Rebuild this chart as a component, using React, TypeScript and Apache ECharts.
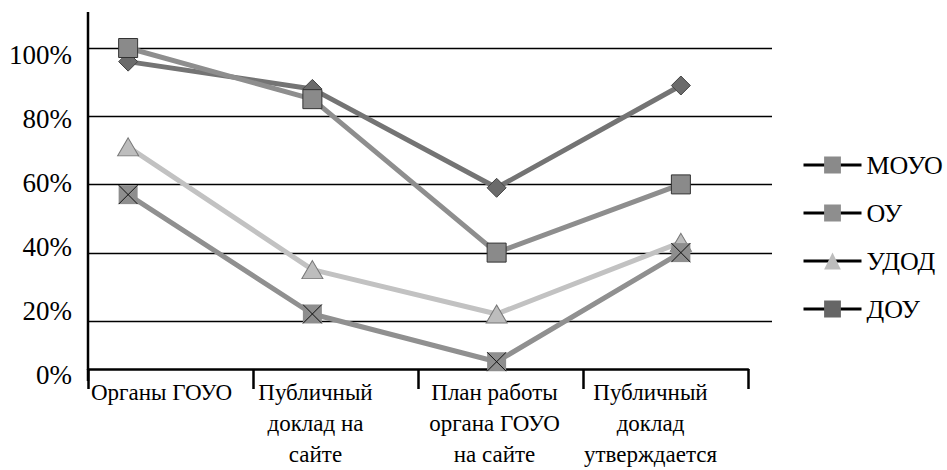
import React, { useEffect, useRef } from "react";
import * as echarts from "echarts";

const categories = [
  "Органы ГОУО",
  "Публичный\nдоклад на\nсайте",
  "План работы\nоргана ГОУО\nна сайте",
  "Публичный\nдоклад\nутверждается",
];
const seriesNames = ["МОУО", "ОУ", "УДОД", "ДОУ"];
const moyo = [100, 85, 40, 60];
const oy = [57, 22, 8, 40];
const udod = [71, 35, 22, 43];
const doy = [96, 88, 59, 89];
const yTicks = [0, 20, 40, 60, 80, 100];

const SERIF = "Liberation Serif";
// horizontal label shift to the left (px), as in the source layout
const labelShift = [9, 20, 6, 15];

export default function App() {
  const ref = useRef<HTMLDivElement>(null);
  useEffect(() => {
    if (!ref.current) return;
    const chart = echarts.init(ref.current, null, { renderer: "svg" });
    const plotTop = 48;
    const plotBottom = 389;
    const xLabelData = categories.map((c, i) => ({
      value: c,
      textStyle: { padding: [0, labelShift[i] * 2, 0, 0] },
    }));
    const option: any = {
      animation: false,
      backgroundColor: "#fff",
      textStyle: { fontFamily: SERIF },
      grid: [
        { left: 36, width: 737, top: plotTop, height: plotBottom - plotTop },
        { left: 88, width: 684, top: plotTop, height: 321 - plotTop },
        { left: 88, width: 684, top: 55, height: 320 },
        { left: 88, width: 660, top: 300, height: 79 },
      ],
      xAxis: [
        { gridIndex: 0, type: "category", data: categories, show: false },
        { gridIndex: 1, type: "value", show: false },
        { gridIndex: 2, type: "value", show: false },
        {
          gridIndex: 3,
          type: "category",
          data: xLabelData,
          boundaryGap: true,
          axisLine: { show: true, lineStyle: { color: "#000", width: 2.5 } },
          axisTick: { show: true, interval: 0, length: 20, lineStyle: { color: "#000", width: 2.5 } },
          axisLabel: {
            interval: 0,
            color: "#000",
            fontFamily: SERIF,
            fontSize: 23,
            lineHeight: 31,
            margin: 8,
          },
          splitLine: { show: false },
        },
      ],
      yAxis: [
        { gridIndex: 0, type: "value", min: 0, max: 100, show: false },
        {
          gridIndex: 1,
          type: "value",
          min: 20,
          max: 100,
          interval: 20,
          axisLine: { show: false },
          axisTick: { show: false },
          axisLabel: { show: false },
          splitLine: { show: true, lineStyle: { color: "#000", width: 1.3 } },
        },
        {
          gridIndex: 2,
          type: "value",
          min: yTicks[0],
          max: yTicks[yTicks.length - 1],
          interval: 20,
          axisLine: { show: false },
          axisTick: { show: false },
          splitLine: { show: false },
          axisLabel: {
            color: "#000",
            fontFamily: SERIF,
            fontSize: 27,
            margin: 16,
            formatter: (v: number) => v + "%",
          },
        },
        { gridIndex: 3, type: "value", min: 0, max: 1, show: false },
      ],
      legend: {
        orient: "vertical",
        left: 797,
        top: 146,
        itemWidth: 58,
        itemHeight: 21,
        itemGap: 20,
        data: seriesNames,
        lineStyle: { color: "#000", width: 3 },
        itemStyle: { borderWidth: 0 },
        textStyle: { color: "#000", fontFamily: SERIF, fontSize: 26, lineHeight: 28 },
      },
      graphic: [
        {
          type: "line",
          shape: { x1: 88, y1: 12, x2: 88, y2: 381 },
          style: { stroke: "#000", lineWidth: 2.5 },
          z: 10,
        },
      ],
      series: [
        {
          name: "ДОУ",
          type: "line",
          xAxisIndex: 0,
          yAxisIndex: 0,
          data: doy,
          symbol: "rect",
          symbolSize: 0.01,
          color: "#6a6a6a",
          lineStyle: { color: "#747474", width: 5 },
          itemStyle: { color: "#666" },
          z: 2,
        },
        {
          type: "scatter",
          xAxisIndex: 0,
          yAxisIndex: 0,
          data: doy,
          symbol: "diamond",
          symbolSize: 19,
          itemStyle: { color: "#6b6b6b", borderColor: "#444", borderWidth: 1, opacity: 1 },
          z: 2,
        },
        {
          name: "УДОД",
          type: "line",
          xAxisIndex: 0,
          yAxisIndex: 0,
          data: udod,
          symbol: "triangle",
          symbolSize: [21, 18],
          showAllSymbol: true,
          color: "#bcbcbc",
          lineStyle: { color: "#c2c2c2", width: 5 },
          itemStyle: { color: "#bdbdbd", borderColor: "#777", borderWidth: 1 },
          z: 2,
        },
        {
          name: "МОУО",
          type: "line",
          xAxisIndex: 0,
          yAxisIndex: 0,
          data: moyo,
          symbol: "rect",
          symbolSize: 19,
          showAllSymbol: true,
          color: "#8a8a8a",
          lineStyle: { color: "#8e8e8e", width: 5 },
          itemStyle: { color: "#8a8a8a", borderColor: "#333", borderWidth: 1 },
          z: 3,
        },
        {
          name: "ОУ",
          type: "line",
          xAxisIndex: 0,
          yAxisIndex: 0,
          data: oy,
          symbol: "rect",
          symbolSize: 19,
          showAllSymbol: true,
          color: "#8e8e8e",
          lineStyle: { color: "#909090", width: 5 },
          itemStyle: { color: "#8e8e8e" },
          z: 3,
        },
        {
          type: "scatter",
          xAxisIndex: 0,
          yAxisIndex: 0,
          data: oy,
          symbol: "path://M0,0L10,10M10,0L0,10",
          symbolSize: 19,
          itemStyle: { color: "none", borderColor: "#111", borderWidth: 1, opacity: 1 },
          z: 4,
        },
      ],
    };
    chart.setOption(option);
    return () => chart.dispose();
  }, []);
  return (
    <div
      ref={ref}
      style={{ position: "fixed", left: 0, top: 0, width: 947, height: 470, background: "#fff" }}
    />
  );
}
